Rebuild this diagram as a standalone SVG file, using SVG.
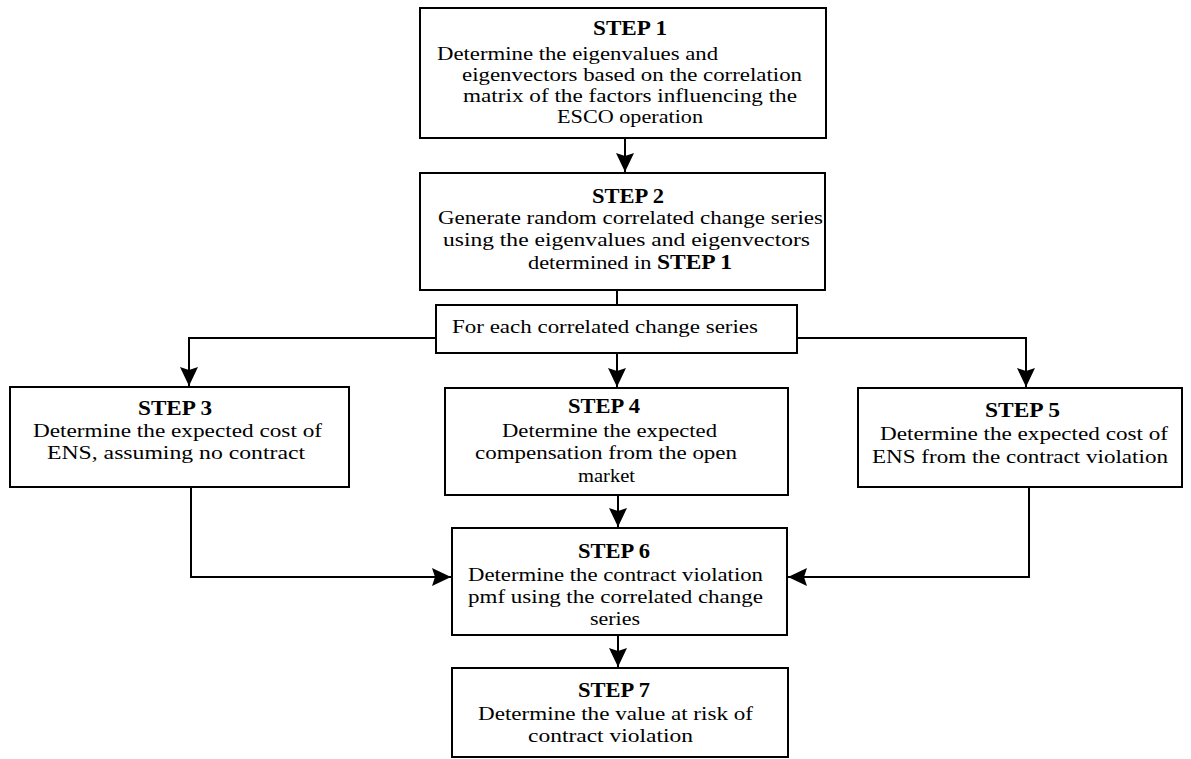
<svg xmlns="http://www.w3.org/2000/svg" width="1191" height="759" viewBox="0 0 1191 759">
  <style>
    .box { fill: #ffffff; stroke: #000000; stroke-width: 2; }
    .wire { fill: none; stroke: #000000; stroke-width: 2; }
    text { font-family: "Liberation Serif", "Times New Roman", serif; font-size: 19px; fill: #000000; }
    .head { font-weight: bold; font-size: 20px; }
  </style>
  <defs>
    <marker id="arrow" markerUnits="userSpaceOnUse" markerWidth="22" markerHeight="22" viewBox="-20 -10 22 20" refX="0" refY="0" orient="auto">
      <path d="M0,0 L-19,-9 L-16,0 L-19,9 Z" fill="#000000"/>
    </marker>
  </defs>

  <rect width="1191" height="759" fill="#ffffff"/>

  <!-- connectors -->
  <g id="connectors">
    <line class="wire" x1="625" y1="138" x2="625" y2="172" marker-end="url(#arrow)"/>
    <line class="wire" x1="617" y1="290" x2="617" y2="305"/>
    <polyline class="wire" points="436,338 189,338 189,386" marker-end="url(#arrow)"/>
    <polyline class="wire" points="797,338 1026,338 1026,387" marker-end="url(#arrow)"/>
    <line class="wire" x1="617" y1="353" x2="617" y2="387" marker-end="url(#arrow)"/>
    <polyline class="wire" points="191,487 191,577 451,577" marker-end="url(#arrow)"/>
    <polyline class="wire" points="1029,487 1029,577 788,577" marker-end="url(#arrow)"/>
    <line class="wire" x1="618" y1="495" x2="618" y2="527" marker-end="url(#arrow)"/>
    <line class="wire" x1="618" y1="635" x2="618" y2="667" marker-end="url(#arrow)"/>
  </g>

  <g id="step1">
    <rect class="box" x="420" y="8" width="406" height="130"/>
    <text class="head" x="593" y="35" textLength="74" lengthAdjust="spacingAndGlyphs">STEP 1</text>
    <text x="437" y="60" textLength="281" lengthAdjust="spacingAndGlyphs">Determine the eigenvalues and</text>
    <text x="462" y="81" textLength="340" lengthAdjust="spacingAndGlyphs">eigenvectors based on the correlation</text>
    <text x="463" y="102" textLength="334" lengthAdjust="spacingAndGlyphs">matrix of the factors influencing the</text>
    <text x="557" y="123" textLength="146" lengthAdjust="spacingAndGlyphs">ESCO operation</text>
  </g>

  <g id="step2">
    <rect class="box" x="420" y="173" width="405" height="117"/>
    <text class="head" x="592" y="203" textLength="72" lengthAdjust="spacingAndGlyphs">STEP 2</text>
    <text x="438" y="224" textLength="385" lengthAdjust="spacingAndGlyphs">Generate random correlated change series</text>
    <text x="443" y="246" textLength="367" lengthAdjust="spacingAndGlyphs">using the eigenvalues and eigenvectors</text>
    <text x="528" y="269" textLength="204" lengthAdjust="spacingAndGlyphs">determined in <tspan class="head">STEP 1</tspan></text>
  </g>

  <g id="foreach">
    <rect class="box" x="436" y="305" width="361" height="48"/>
    <text x="452" y="333" textLength="306" lengthAdjust="spacingAndGlyphs">For each correlated change series</text>
  </g>

  <g id="step3">
    <rect class="box" x="10" y="387" width="339" height="100"/>
    <text class="head" x="138" y="415" textLength="74" lengthAdjust="spacingAndGlyphs">STEP 3</text>
    <text x="33" y="437" textLength="289" lengthAdjust="spacingAndGlyphs">Determine the expected cost of</text>
    <text x="47" y="459" textLength="258" lengthAdjust="spacingAndGlyphs">ENS, assuming no contract</text>
  </g>

  <g id="step4">
    <rect class="box" x="445" y="388" width="343" height="107"/>
    <text class="head" x="568" y="413" textLength="72" lengthAdjust="spacingAndGlyphs">STEP 4</text>
    <text x="502" y="437" textLength="215" lengthAdjust="spacingAndGlyphs">Determine the expected</text>
    <text x="475" y="459" textLength="262" lengthAdjust="spacingAndGlyphs">compensation from the open</text>
    <text x="578" y="482" textLength="57" lengthAdjust="spacingAndGlyphs">market</text>
  </g>

  <g id="step5">
    <rect class="box" x="858" y="388" width="324" height="99"/>
    <text class="head" x="985" y="417" textLength="75" lengthAdjust="spacingAndGlyphs">STEP 5</text>
    <text x="880" y="440" textLength="288" lengthAdjust="spacingAndGlyphs">Determine the expected cost of</text>
    <text x="872" y="463" textLength="296" lengthAdjust="spacingAndGlyphs">ENS from the contract violation</text>
  </g>

  <g id="step6">
    <rect class="box" x="452" y="528" width="335" height="107"/>
    <text class="head" x="578" y="558" textLength="72" lengthAdjust="spacingAndGlyphs">STEP 6</text>
    <text x="468" y="581" textLength="295" lengthAdjust="spacingAndGlyphs">Determine the contract violation</text>
    <text x="468" y="603" textLength="295" lengthAdjust="spacingAndGlyphs">pmf using the correlated change</text>
    <text x="590" y="625" textLength="50" lengthAdjust="spacingAndGlyphs">series</text>
  </g>

  <g id="step7">
    <rect class="box" x="452" y="668" width="336" height="89"/>
    <text class="head" x="578" y="697" textLength="72" lengthAdjust="spacingAndGlyphs">STEP 7</text>
    <text x="478" y="720" textLength="275" lengthAdjust="spacingAndGlyphs">Determine the value at risk of</text>
    <text x="528" y="742" textLength="165" lengthAdjust="spacingAndGlyphs">contract violation</text>
  </g>
</svg>
